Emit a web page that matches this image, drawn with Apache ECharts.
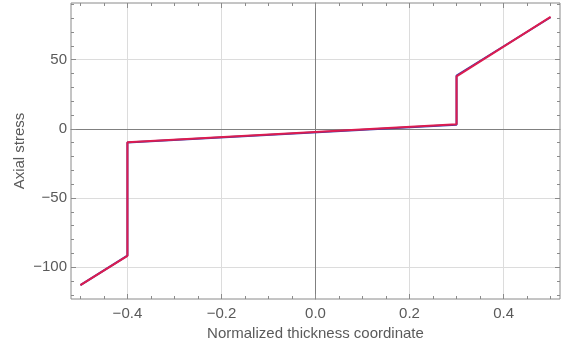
<!DOCTYPE html>
<html>
<head>
<meta charset="utf-8">
<script src="https://cdn.jsdelivr.net/npm/echarts@6/dist/echarts.min.js"></script>
<style>
  html, body { margin: 0; padding: 0; background: #fff; }
  #chart { width: 572px; height: 347px; }
</style>
</head>
<body>
<div id="chart"></div>
<script>
// Through-thickness axial stress profile of a layered section
const thicknessRed  = [-0.5, -0.4, -0.4, 0.3, 0.3, 0.5];
const stressRed     = [-113, -91.8, -9.7, 3.4, 38.0, 80.9];
const thicknessBlue = [-0.5, -0.4, -0.4, 0.3, 0.3, 0.5];
const stressBlue    = [-113, -91.6, -9.9, 3.0, 38.6, 80.7];

const xMajor = [-0.4, -0.2, 0, 0.2, 0.4];
const xMinor = [-0.5, -0.45, -0.35, -0.3, -0.25, -0.15, -0.1, -0.05, 0.05, 0.1, 0.15, 0.25, 0.3, 0.35, 0.45, 0.5];
const yMajor = [-100, -50, 0, 50];
const yMinor = [-120, -110, -90, -80, -70, -60, -40, -30, -20, -10, 10, 20, 30, 40, 60, 70, 80, 90];

const xTitle = 'Normalized thickness coordinate';
const yTitle = 'Axial stress';

const X_MIN = -0.52, X_MAX = 0.52, Y_MIN = -123, Y_MAX = 91;
const frameColor = '#8a8a8a';
const labelColor = '#5a5a5a';
const gridColor = '#dcdcdc';
const fontFamily = "'Liberation Sans', Arial, sans-serif";
const fontSize = 15;

function minus(v) {
  return String(v).replace('-', '\u2212');
}
function fmtX(v) {
  return minus((Math.round(v * 10) / 10).toFixed(1));
}

const pairs = (xs, ys) => xs.map((x, i) => [x, ys[i]]);

function tickAxis(base, values, len, extra) {
  return Object.assign({
    type: 'value', min: base.min, max: base.max,
    axisLine: { show: false, onZero: false },
    axisTick: { show: true, inside: true, length: len, customValues: values,
      lineStyle: { color: frameColor, width: 1 } },
    axisLabel: { show: false },
    splitLine: { show: false }
  }, extra);
}

const xb = { min: X_MIN, max: X_MAX };
const yb = { min: Y_MIN, max: Y_MAX };

const chart = echarts.init(document.getElementById('chart'), null, { renderer: 'canvas' });
chart.setOption({
  animation: false,
  backgroundColor: '#ffffff',
  grid: {
    left: 71, right: 12, top: 3, bottom: 48,
    show: true, borderColor: frameColor, borderWidth: 1, backgroundColor: 'transparent'
  },
  xAxis: [
    // labelled bottom axis with grid lines
    {
      type: 'value', min: X_MIN, max: X_MAX, position: 'bottom',
      name: xTitle, nameLocation: 'middle', nameGap: 27, nameMoveOverlap: false,
      nameTextStyle: { color: labelColor, fontSize: fontSize, fontFamily: fontFamily },
      axisLine: { show: false, onZero: false },
      axisTick: { show: true, inside: true, length: 5, customValues: xMajor,
        lineStyle: { color: frameColor } },
      axisLabel: { show: true, customValues: xMajor, formatter: fmtX, margin: 7,
        color: labelColor, fontSize: fontSize, fontFamily: fontFamily },
      splitLine: { show: true, lineStyle: { color: gridColor, width: 1 } }
    },
    tickAxis(xb, xMinor, 3, { position: 'bottom' }),
    tickAxis(xb, xMajor, 5, { position: 'top' }),
    tickAxis(xb, xMinor, 3, { position: 'top' }),
    // horizontal axis through y = 0
    {
      type: 'value', min: X_MIN, max: X_MAX,
      axisLine: { show: true, onZero: true, lineStyle: { color: '#808080', width: 1 } },
      axisTick: { show: false }, axisLabel: { show: false }, splitLine: { show: false }
    }
  ],
  yAxis: [
    {
      type: 'value', min: Y_MIN, max: Y_MAX, position: 'left',
      name: yTitle, nameLocation: 'middle', nameGap: 44, nameRotate: 90, nameMoveOverlap: false,
      nameTextStyle: { color: labelColor, fontSize: fontSize, fontFamily: fontFamily },
      axisLine: { show: false, onZero: false },
      axisTick: { show: true, inside: true, length: 5, customValues: yMajor,
        lineStyle: { color: frameColor } },
      axisLabel: { show: true, customValues: yMajor, formatter: minus, margin: 4,
        color: labelColor, fontSize: fontSize, fontFamily: fontFamily },
      splitLine: { show: true, lineStyle: { color: gridColor, width: 1 } }
    },
    tickAxis(yb, yMinor, 3, { position: 'left' }),
    tickAxis(yb, yMajor, 5, { position: 'right' }),
    tickAxis(yb, yMinor, 3, { position: 'right' }),
    // vertical axis through x = 0
    {
      type: 'value', min: Y_MIN, max: Y_MAX,
      axisLine: { show: true, onZero: true, lineStyle: { color: '#808080', width: 1 } },
      axisTick: { show: false }, axisLabel: { show: false }, splitLine: { show: false }
    }
  ],
  series: [
    {
      type: 'line', xAxisIndex: 0, yAxisIndex: 0,
      data: pairs(thicknessBlue, stressBlue),
      showSymbol: false, symbol: 'none',
      lineStyle: { color: '#3b3ba8', width: 2 }, z: 3
    },
    {
      type: 'line', xAxisIndex: 0, yAxisIndex: 0,
      data: pairs(thicknessRed, stressRed),
      showSymbol: false, symbol: 'none',
      lineStyle: { color: '#dc1c50', width: 2 }, z: 4
    }
  ]
});
</script>
</body>
</html>
